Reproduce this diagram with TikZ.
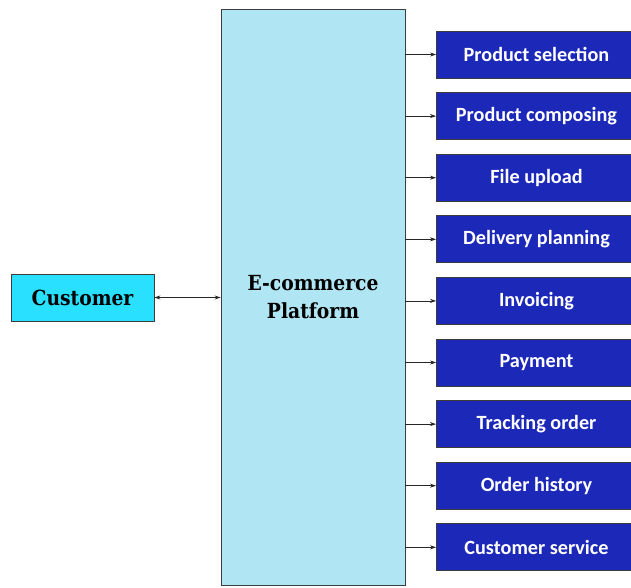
\documentclass[tikz,border=0pt]{standalone}
\usepackage{fontspec}
\setmainfont{Carlito}
\newfontfamily\slabfont{DejaVu Serif Condensed}
\usetikzlibrary{arrows.meta}
\definecolor{custfill}{RGB}{41,225,255}
\definecolor{platfill}{RGB}{176,230,244}
\definecolor{boxblue}{RGB}{28,40,184}
\definecolor{edgegray}{RGB}{60,60,60}
\begin{document}
\begin{tikzpicture}[x=1pt,y=-1pt,
  slabbox/.style={draw=edgegray,line width=0.9pt,inner sep=0pt,
    font=\slabfont\bfseries\fontsize{20.8}{28}\selectfont,text=black,align=center},
  funcbox/.style={draw=edgegray,line width=0.9pt,fill=boxblue,inner sep=0pt,
    minimum width=195pt,minimum height=47pt,text=white,
    font=\bfseries\fontsize{20.2}{22}\selectfont},
  conn/.style={draw=black!85,line width=0.7pt,-{Stealth[length=6pt,width=4pt]}},
  bconn/.style={draw=black!85,line width=0.7pt,{Stealth[length=6pt,width=4pt]}-{Stealth[length=6pt,width=4pt]}}]
\useasboundingbox (0,0) rectangle (631,587);
\node[slabbox,fill=custfill,minimum width=143pt,minimum height=47pt] (cust) at (82.5,297.5) {\raisebox{-1pt}{Customer}};
\node[slabbox,fill=platfill,minimum width=184pt,minimum height=576pt] (plat) at (313,297) {E-commerce\\Platform};
\foreach \i/\t in {0/Product selection,1/Product composing,2/File upload,3/Delivery planning,4/Invoicing,5/Payment,6/Tracking order,7/Order history,8/Customer service}{
  \node[funcbox] (f\i) at (534,{54.5+61.6*\i}) {\hspace*{5pt}\raisebox{-1.5pt}{\t}};
  \draw[conn] (plat.east |- f\i.west) -- (f\i.west);
}
\draw[bconn] (cust.east) -- (cust.east -| plat.west);
\end{tikzpicture}
\end{document}
